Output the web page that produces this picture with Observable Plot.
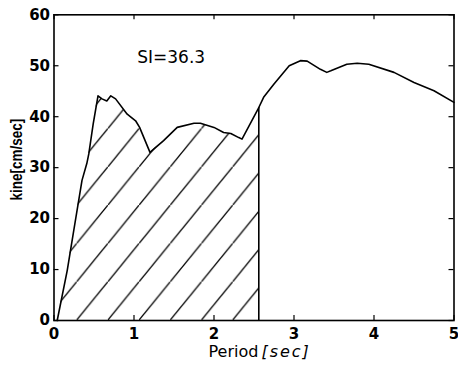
<!DOCTYPE html>
<html>
<head>
<meta charset="utf-8">
<script src="https://cdn.jsdelivr.net/npm/d3@7"></script>
<script src="https://cdn.jsdelivr.net/npm/@observablehq/plot@0.6"></script>
<style>
  html, body { margin: 0; padding: 0; background: #fff; }
</style>
</head>
<body>
<div id="chart"></div>
<script>
// Response spectrum (period [sec] vs kine [cm/sec])
const periods = [0.04, 0.165, 0.24, 0.35, 0.41, 0.435, 0.49, 0.55, 0.60, 0.66, 0.71, 0.77, 0.915, 1.02, 1.07, 1.20, 1.37, 1.54, 1.75, 1.83, 2.0, 2.12, 2.21, 2.31, 2.35, 2.56, 2.62, 2.75, 2.94, 3.08, 3.165, 3.33, 3.41, 3.46, 3.66, 3.79, 3.935, 4.25, 4.5, 4.75, 5.0];
const kine    = [0, 9.8, 17.0, 27.5, 30.8, 32.7, 38.6, 44.1, 43.5, 43.1, 44.1, 43.5, 40.5, 39.2, 37.9, 33.0, 35.3, 37.9, 38.7, 38.7, 37.9, 36.9, 36.7, 35.9, 35.6, 41.8, 43.8, 46.4, 50.0, 51.0, 50.9, 49.3, 48.7, 49.0, 50.3, 50.5, 50.3, 48.7, 46.7, 45.1, 42.8];
const siEnd = 2.56;          // upper period of the hatched (SI) integration range
const siLabel = "SI=36.3";
const siLabelX = 1.04, siLabelY = 51.6;
const xTicks = [0, 1, 2, 3, 4, 5];
const yTicks = [0, 10, 20, 30, 40, 50, 60];
const xLabelMain = "Period";
const xLabelUnit = "[sec]";
const yLabel = "kine[cm/sec]";

const data = periods.map((p, i) => ({period: p, kine: kine[i]}));
const hatched = data.filter(d => d.period <= siEnd);
const siEdge = data.filter(d => d.period === siEnd);

const W = 458, H = 365;
const mL = 53.5, mR = 4.5, mT = 14.3, mB = 45;
const innerW = W - mL - mR, innerH = H - mT - mB;
const tickLen = 5;

const plot = Plot.plot({
  width: W,
  height: H,
  marginLeft: mL,
  marginRight: mR,
  marginTop: mT,
  marginBottom: mB,
  style: {
    fontFamily: "'DejaVu Sans', sans-serif",
    fontSize: "15px",
    fontWeight: "bold",
    color: "#000",
    background: "#fff",
    overflow: "visible"
  },
  x: {domain: [0, 5], ticks: xTicks, tickSize: 0, tickPadding: 8, tickFormat: d => String(d), label: null},
  y: {domain: [0, 60], ticks: yTicks, tickSize: 0, tickPadding: 4, tickFormat: d => String(d), label: null},
  marks: [
    Plot.areaY(hatched, {x: "period", y: "kine", fill: "url(#hatch)"}),
    Plot.ruleX(siEdge, {x: "period", y1: 0, y2: "kine", stroke: "#000", strokeWidth: 1.6}),
    Plot.line(data, {x: "period", y: "kine", stroke: "#000", strokeWidth: 1.6}),
    // inward ticks on all four sides
    Plot.tickX(xTicks, {x: d => d, insetTop: innerH - tickLen, stroke: "#000", strokeWidth: 1.2}),
    Plot.tickX(xTicks, {x: d => d, insetBottom: innerH - tickLen, stroke: "#000", strokeWidth: 1.2}),
    Plot.tickY(yTicks, {y: d => d, insetRight: innerW - tickLen, stroke: "#000", strokeWidth: 1.2}),
    Plot.tickY(yTicks, {y: d => d, insetLeft: innerW - tickLen, stroke: "#000", strokeWidth: 1.2}),
    Plot.frame({stroke: "#000", strokeWidth: 1.6}),
    Plot.text([siLabel], {x: () => siLabelX, y: () => siLabelY, text: d => d, textAnchor: "start", lineAnchor: "middle",
      fontSize: 17, fontWeight: "normal", fill: "#000"}),
    Plot.text([xLabelMain + " " + xLabelUnit], {frameAnchor: "bottom-left", text: d => d, textAnchor: "start", lineAnchor: "bottom",
      dx: 154.5, dy: 36.5, fontSize: 16, fontWeight: "normal", fill: "#000"}),
    Plot.text([yLabel], {frameAnchor: "left", text: d => d, rotate: -90, textAnchor: "middle", lineAnchor: "middle",
      dx: -37.5, dy: -8, fontSize: 13.5, fontWeight: "bold", fontFamily: "'Liberation Sans', Arial, sans-serif", fill: "#000"})
  ]
});

// hatch pattern used by the SI area
const svg = d3.select(plot);
const pat = svg.insert("defs", ":first-child").append("pattern")
  .attr("id", "hatch")
  .attr("patternUnits", "userSpaceOnUse")
  .attr("x", 76.7).attr("y", 320)
  .attr("width", 31.2).attr("height", 38.3);
pat.append("rect").attr("width", 31.2).attr("height", 38.3).attr("fill", "#fff");
pat.append("path").attr("d", "M -31.2 76.6 L 62.4 -38.3").attr("stroke", "#000").attr("stroke-width", 1.3).attr("fill", "none");

svg.selectAll("text").each(function() {
  const t = d3.select(this);
  // italic, letter-spaced unit in x label
  if (t.text() === xLabelMain + " " + xLabelUnit) {
    t.text(null);
    t.append("tspan").text(xLabelMain);
    t.append("tspan").attr("dx", 3).attr("font-style", "italic").attr("letter-spacing", "2px").text(xLabelUnit);
  }
  // the reference's rotated label has taller (wider on screen) glyphs
  if (t.text() === yLabel) {
    t.attr("transform", t.attr("transform") + " scale(1,1.25)");
  }
});

document.getElementById("chart").appendChild(plot);
</script>
</body>
</html>
